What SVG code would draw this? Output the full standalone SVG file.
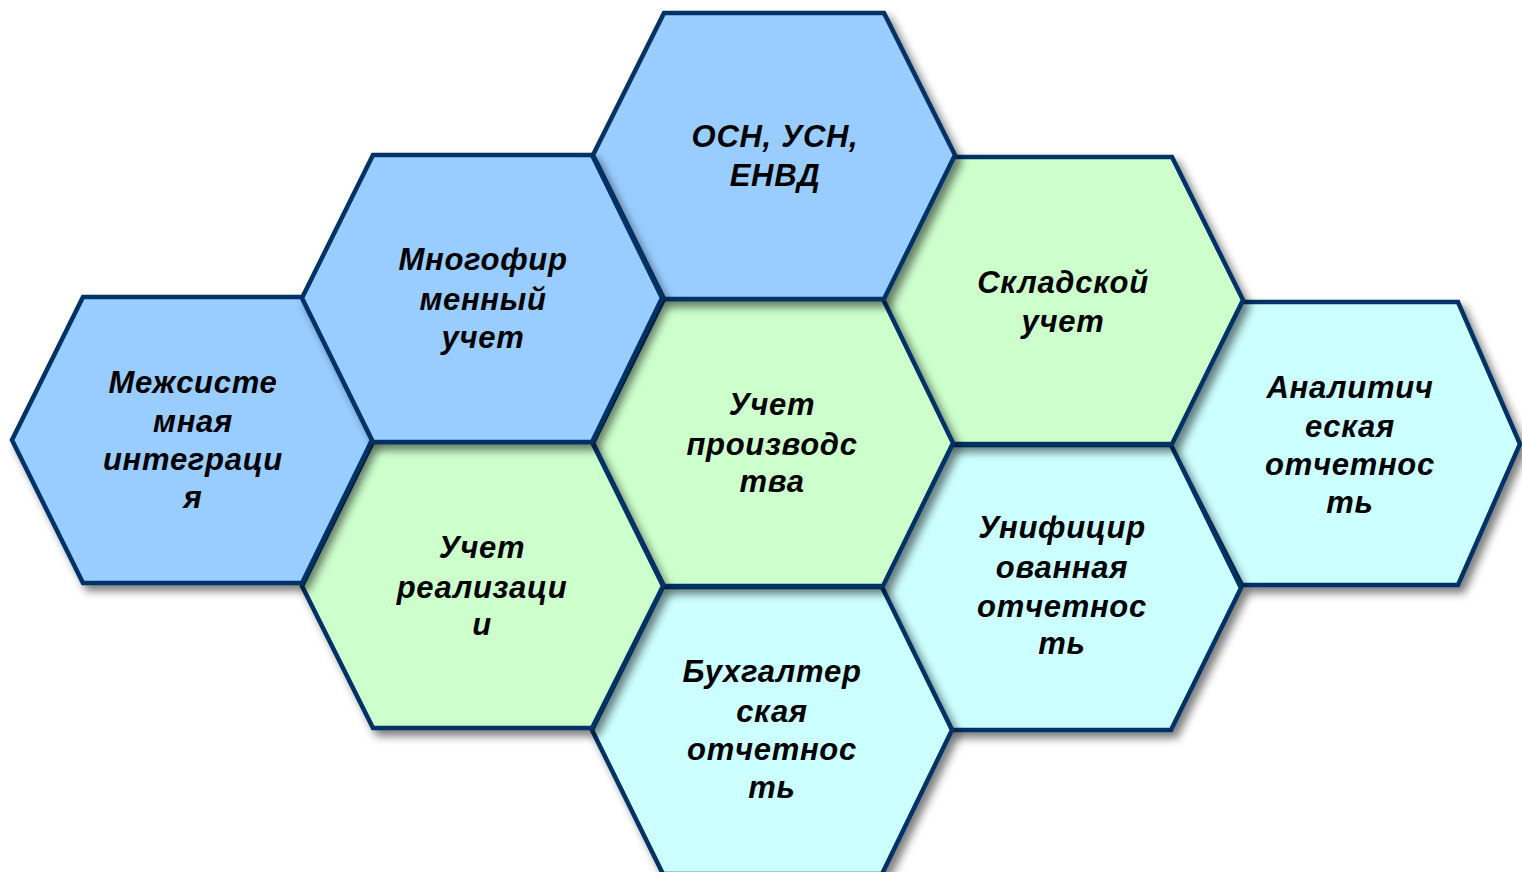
<svg xmlns="http://www.w3.org/2000/svg" width="1522" height="872" viewBox="0 0 1522 872">
<defs>
<filter id="sh" x="-10%" y="-10%" width="125%" height="125%">
<feDropShadow dx="5" dy="6" stdDeviation="4" flood-color="#000" flood-opacity="0.5"/>
</filter>
</defs>
<style>
.hex{stroke:#003366;stroke-width:4.5;stroke-linejoin:miter;filter:url(#sh)}
.b{fill:#99CCFF}
.g{fill:#CCFFCC}
.c{fill:#CCFFFF}
.t{font-family:"Liberation Sans",Arial,sans-serif;font-size:31px;letter-spacing:0.7px;font-weight:bold;font-style:italic;fill:#000;text-anchor:middle}
</style>
<rect width="1522" height="872" fill="#fff"/>

<g id="analytic">
<polygon class="hex c" points="1242,302 1458,302 1520,444 1458,585 1242,585 1170,444"/>
<text class="t"><tspan x="1350" y="398">Аналитич</tspan><tspan x="1350" y="437">еская</tspan><tspan x="1350" y="475">отчетнос</tspan><tspan x="1350" y="513">ть</tspan></text>
</g>

<g id="unified">
<polygon class="hex c" points="952,445 1171,445 1241,588 1171,730 952,730 881,588"/>
<text class="t"><tspan x="1062" y="538">Унифицир</tspan><tspan x="1062" y="578">ованная</tspan><tspan x="1062" y="617">отчетнос</tspan><tspan x="1062" y="654">ть</tspan></text>
</g>

<g id="warehouse">
<polygon class="hex g" points="953,157 1172,157 1243,300 1172,444 953,444 882,300"/>
<text class="t"><tspan x="1063" y="293">Складской</tspan><tspan x="1063" y="332">учет</tspan></text>
</g>

<g id="accounting">
<polygon class="hex c" points="663,587 882,587 952,730 882,874 663,874 592,730"/>
<text class="t"><tspan x="772" y="682">Бухгалтер</tspan><tspan x="772" y="722">ская</tspan><tspan x="772" y="760">отчетнос</tspan><tspan x="772" y="798">ть</tspan></text>
</g>

<g id="production">
<polygon class="hex g" points="664,299 883,299 953,443 883,586 664,586 593,443"/>
<text class="t"><tspan x="772" y="415">Учет</tspan><tspan x="772" y="455">производс</tspan><tspan x="772" y="492">тва</tspan></text>
</g>

<g id="taxes">
<polygon class="hex b" points="664,13 884,13 955,155 884,299 664,299 593,155"/>
<text class="t"><tspan x="775" y="147">ОСН, УСН,</tspan><tspan x="775" y="186">ЕНВД</tspan></text>
</g>

<g id="sales">
<polygon class="hex g" points="373,442 592,442 663,586 592,728 373,728 302,586"/>
<text class="t"><tspan x="482" y="558">Учет</tspan><tspan x="482" y="598">реализаци</tspan><tspan x="482" y="635">и</tspan></text>
</g>

<g id="integration">
<polygon class="hex b" points="83,297 302,297 372,440 302,583 83,583 12,440"/>
<text class="t"><tspan x="193" y="393">Межсисте</tspan><tspan x="193" y="432">мная</tspan><tspan x="193" y="470">интеграци</tspan><tspan x="193" y="508">я</tspan></text>
</g>

<g id="multifirm">
<polygon class="hex b" points="373,155 592,155 662,298 592,442 373,442 302,298"/>
<text class="t"><tspan x="483" y="270">Многофир</tspan><tspan x="483" y="310">менный</tspan><tspan x="483" y="348">учет</tspan></text>
</g>
</svg>
